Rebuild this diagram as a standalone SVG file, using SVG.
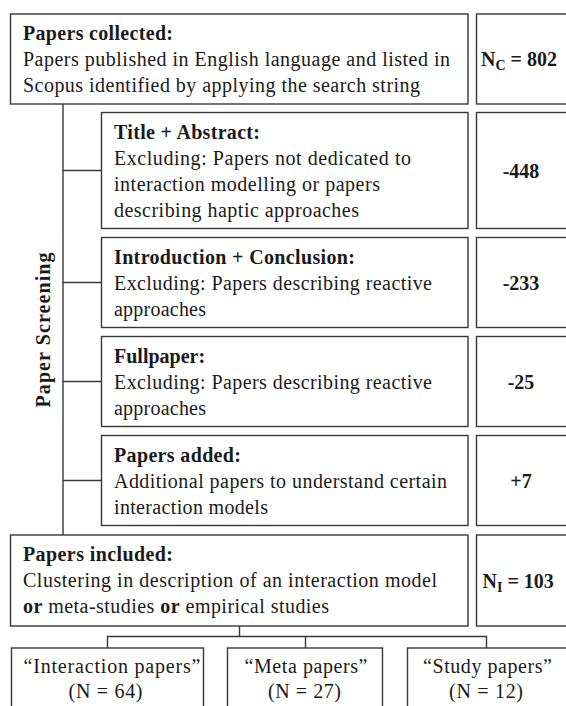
<svg xmlns="http://www.w3.org/2000/svg" width="566" height="706" viewBox="0 0 566 706">
<style>
rect{fill:#fff;stroke:#383838;stroke-width:1.4}
.c{fill:none;stroke:#383838;stroke-width:1.4}
text{font-family:"Liberation Serif","Times New Roman",serif;font-size:20px;fill:#1a1a1a}
.b{font-weight:bold}
.m{text-anchor:middle}
</style>
<rect x="0" y="0" width="566" height="706" style="fill:#fff;stroke:none"/>
<g id="connectors">
<path class="c" d="M63 104V535M63 170.5H101.5M63 282.5H101.5M63 381.5H101.5M63 480.5H101.5"/>
<path class="c" d="M239.5 626V636.5M107.5 648V636.5H486.5V648M305.5 636.5V648"/>
</g>
<g id="label-screening">
<text class="b m" transform="translate(50,330) rotate(-90)" textLength="155">Paper Screening</text>
</g>
<g id="collected">
<rect x="10.5" y="14" width="457.5" height="90"/>
<text class="b" x="23" y="40" textLength="150">Papers collected:</text>
<text x="23" y="66" textLength="427">Papers published in English language and listed in</text>
<text x="23" y="92" textLength="397">Scopus identified by applying the search string</text>
</g>
<g id="nc">
<rect x="476.5" y="14" width="100" height="90"/>
<text class="b" x="481" y="66">N<tspan font-size="14" dy="4">C</tspan><tspan dy="-4"> = 802</tspan></text>
</g>
<g id="title-abstract">
<rect x="101.5" y="112.5" width="366.5" height="116"/>
<text class="b" x="114" y="139" textLength="146">Title + Abstract:</text>
<text x="114" y="165" textLength="297">Excluding: Papers not dedicated to</text>
<text x="114" y="191" textLength="266">interaction modelling or papers</text>
<text x="114" y="217" textLength="245">describing haptic approaches</text>
</g>
<g id="n448">
<rect x="476.5" y="112.5" width="100" height="116"/>
<text class="b m" x="521" y="177.5">-448</text>
</g>
<g id="intro-conclusion">
<rect x="101.5" y="237.5" width="366.5" height="90"/>
<text class="b" x="114" y="263.5" textLength="241">Introduction + Conclusion:</text>
<text x="114" y="289.5" textLength="318">Excluding: Papers describing reactive</text>
<text x="114" y="315.5" textLength="92">approaches</text>
</g>
<g id="n233">
<rect x="476.5" y="237.5" width="100" height="90"/>
<text class="b m" x="521" y="289.5">-233</text>
</g>
<g id="fullpaper">
<rect x="101.5" y="336.5" width="366.5" height="90"/>
<text class="b" x="114" y="362.5">Fullpaper:</text>
<text x="114" y="388.5" textLength="318">Excluding: Papers describing reactive</text>
<text x="114" y="414.5" textLength="92">approaches</text>
</g>
<g id="n25">
<rect x="476.5" y="336.5" width="100" height="90"/>
<text class="b m" x="521" y="388.5">-25</text>
</g>
<g id="added">
<rect x="101.5" y="435.5" width="366.5" height="90"/>
<text class="b" x="114" y="461.5" textLength="127">Papers added:</text>
<text x="114" y="487.5" textLength="333">Additional papers to understand certain</text>
<text x="114" y="513.5" textLength="154">interaction models</text>
</g>
<g id="n7">
<rect x="476.5" y="435.5" width="100" height="90"/>
<text class="b m" x="521" y="487.5">+7</text>
</g>
<g id="included">
<rect x="10.5" y="535" width="457.5" height="91"/>
<text class="b" x="23" y="561" textLength="150">Papers included:</text>
<text x="23" y="587" textLength="414">Clustering in description of an interaction model</text>
<text x="23" y="613" textLength="306"><tspan class="b">or</tspan> meta-studies <tspan class="b">or</tspan> empirical studies</text>
</g>
<g id="ni">
<rect x="476.5" y="535" width="100" height="91"/>
<text class="b" x="482.5" y="588">N<tspan font-size="14" dy="4">I</tspan><tspan dy="-4"> = 103</tspan></text>
</g>
<g id="interaction-papers">
<rect x="11.5" y="648" width="192" height="80"/>
<text class="m" x="112" y="673" textLength="177">“Interaction papers”</text>
<text class="m" x="105.5" y="698" textLength="74">(N = 64)</text>
</g>
<g id="meta-papers">
<rect x="227.5" y="648" width="155" height="80"/>
<text class="m" x="306" y="673" textLength="123">“Meta papers”</text>
<text class="m" x="304.5" y="698" textLength="73">(N = 27)</text>
</g>
<g id="study-papers">
<rect x="407.5" y="648" width="170" height="80"/>
<text class="m" x="487.5" y="673" textLength="129">“Study papers”</text>
<text class="m" x="486" y="698" textLength="74">(N = 12)</text>
</g>
</svg>
